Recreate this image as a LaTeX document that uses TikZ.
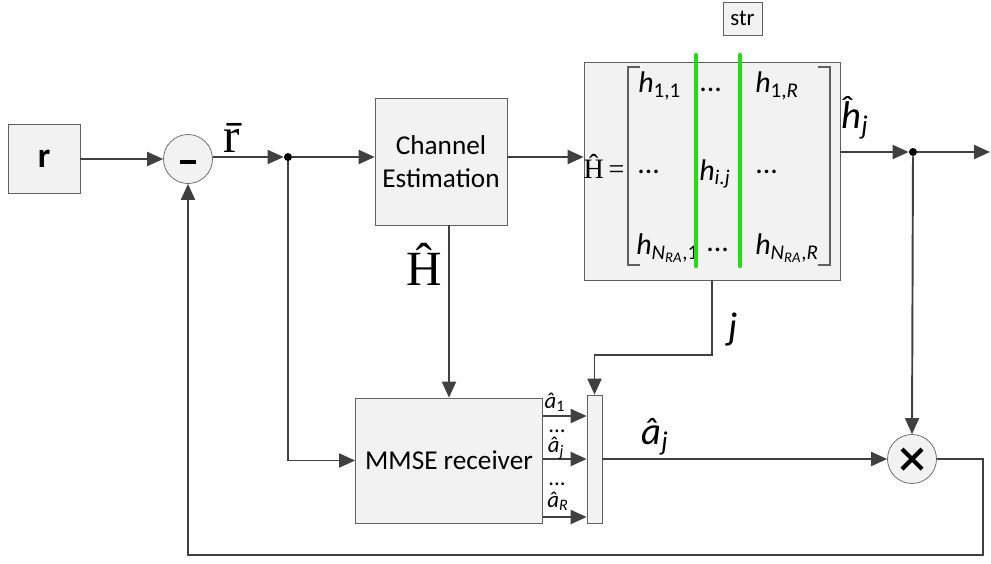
\documentclass[tikz,border=0pt]{standalone}
\usepackage{fontspec}
\setmainfont{Carlito}
\newfontfamily\serifRM{Liberation Serif}
\usetikzlibrary{arrows.meta,shapes}
\definecolor{linegray}{HTML}{404040}
\definecolor{edgegray}{HTML}{606060}
\definecolor{boxfill}{HTML}{F2F2F2}
\definecolor{colgreen}{HTML}{22DD11}
\tikzset{
 block/.style={draw=edgegray, fill=boxfill, inner sep=0pt},
 sumnode/.style={circle, draw=edgegray, fill=boxfill, minimum size=0.98cm, inner sep=0pt},
 conn/.style={draw=linegray, line width=1.1pt},
 arr/.style={conn, -{Triangle[length=3.2mm,width=2.8mm]}},
 junction/.style={circle, fill=black, minimum size=1.6mm, inner sep=0pt},
 lbl/.style={inner sep=1pt},
 entry/.style={inner sep=0pt, font=\fontsize{17}{19}\selectfont},
 big/.style={font=\fontsize{22}{24}\selectfont},
 small/.style={inner sep=0pt, font=\fontsize{13}{15}\selectfont},
}
\newcommand{\hent}[1]{\textit{h}\textsubscript{#1}}
\newcommand{\ahat}[1]{\textit{â}\textsubscript{#1}}

\begin{document}
\begin{tikzpicture}[x=0.2mm, y=-0.2mm]
        \useasboundingbox (0,0) rectangle (991,563);
        % blocks
        \node[block, minimum width=1.44cm, minimum height=1.38cm, font=\fontsize{20}{22}\selectfont\bfseries] (rbox) at (44,159) {r};
        \node[sumnode] (minus) at (188,159) {};
        \draw[line width=2.4pt] ([shift={(-8,3)}]minus.center) -- ([shift={(8,3)}]minus.center);
        \node[junction] (dot1) at (288,157) {};
        \node[block, minimum width=2.64cm, minimum height=2.54cm, align=center, font=\fontsize{15.5}{19}\selectfont] (chan) at (441,161.5) {Channel\\Estimation};
        \node[block, minimum width=5.12cm, minimum height=4.36cm] (mat) at (712,171) {};
        \node[block, minimum width=0.78cm, minimum height=0.66cm, font=\fontsize{13}{15}\selectfont] (str) at (742.5,18.5) {str};
        \node[junction] (dot2) at (913,152) {};
        \coordinate (out) at (990,152);
        \node[sumnode] (mult) at (912,459) {};
        \draw[line width=2.4pt] ([shift={(-10,-10)}]mult.center) -- ([shift={(10,10)}]mult.center);
        \draw[line width=2.4pt] ([shift={(-10,10)}]mult.center) -- ([shift={(10,-10)}]mult.center);
        \node[block, minimum width=3.74cm, minimum height=2.5cm, font=\fontsize{15.5}{19}\selectfont] (mmse) at (449,460.5) {MMSE receiver};
        \node[block, minimum width=0.3cm, minimum height=2.56cm] (mux) at (594.5,459) {};

        % matrix inside the estimate box
        \node[inner sep=0pt, font=\fontsize{16}{18}\selectfont\serifRM] (hmat) at (604,166) {\^{H}\,=};
        \draw[edgegray, line width=0.8pt] (640,67) -- (628,67) -- (628,265) -- (640,265);
        \draw[edgegray, line width=0.8pt] (818,67) -- (830,67) -- (830,265) -- (818,265);
        \node[entry, anchor=west] (h11) at (638,86) {\hent{1,1}};
        \node[entry, anchor=west] (d12) at (699,90) {...};
        \node[entry, anchor=west] (h1R) at (755,86) {\hent{1,\textit{R}}};
        \node[entry, anchor=west] (d21) at (637,172) {...};
        \node[entry, anchor=west] (hij) at (699,174) {\hent{\textit{i.j}}};
        \node[entry, anchor=west] (d23) at (755,172) {...};
        \node[entry, anchor=west] (hN1) at (636,248) {\textit{h}\textsubscript{\textit{N}\textsubscript{\textit{RA}},1}};
        \node[entry, anchor=west] (d32) at (706,250) {...};
        \node[entry, anchor=west] (hNR) at (755,248) {\textit{h}\textsubscript{\textit{N}\textsubscript{\textit{RA}},\textit{R}}};
        \draw[colgreen, line width=2.4pt, line cap=round] (696,55) -- (696,266);
        \draw[colgreen, line width=2.4pt, line cap=round] (740,55) -- (740,266);

        % connectors
        \draw[arr] (rbox.east |- minus) -- (minus.west);
        \draw[arr] (minus.east |- dot1) -- (dot1);
        \draw[arr] (dot1) -- (dot1 -| chan.west);
        \draw[arr] (chan.east |- dot1) -- (dot1 -| mat.west);
        \draw[arr] (mat.east |- dot2) -- (dot2);
        \draw[arr] (dot2) -- (out);
        \draw[arr] (dot2) -- (mult.north);
        \draw[arr] (chan.south -| mmse.north) -- (mmse.north);
        \draw[arr] (dot1) |- (mmse.west);
        \coordinate (a1) at (570,416);
        \coordinate (aR) at (570,517);
        \draw[arr] (mmse.east |- a1) -- (mux.west |- a1);
        \draw[arr] (mmse.east |- mux) -- (mux.west);
        \draw[arr] (mmse.east |- aR) -- (mux.west |- aR);
        \coordinate (jturn) at (712,355);
        \draw[arr] (mat.south) -- (jturn) -| (mux.north);
        \draw[arr] (mux.east) -- (mult.west);
        \coordinate (fb) at (983,555);
        \draw[arr] (mult.east) -| (fb) -| (minus.south);

        % labels
        \node[lbl, font=\fontsize{28}{30}\selectfont\serifRM] (rbar) at (232,138) {\={r}};
        \node[lbl, big] (hj) at (855,118) {\textit{ĥ}\textsubscript{\textit{j}}};
        \node[lbl, font=\fontsize{28}{30}\selectfont\serifRM] (Hhat) at (424,264) {\^{H}};
        \node[lbl, big] (jlab) at (733,330) {\textit{j}};
        \node[lbl, big] (ajlab) at (655,437) {\ahat{\textit{j}}};
        \node[small] (a1lab) at (555,402) {\ahat{1}};
        \node[small] (ajdots) at (557,431) {...};
        \node[small] (ajsml) at (556,448) {\ahat{\textit{j}}};
        \node[small] (aRdots) at (557,484) {...};
        \node[small] (aRlab) at (558,501) {\ahat{\textit{R}}};
\end{tikzpicture}
\end{document}
